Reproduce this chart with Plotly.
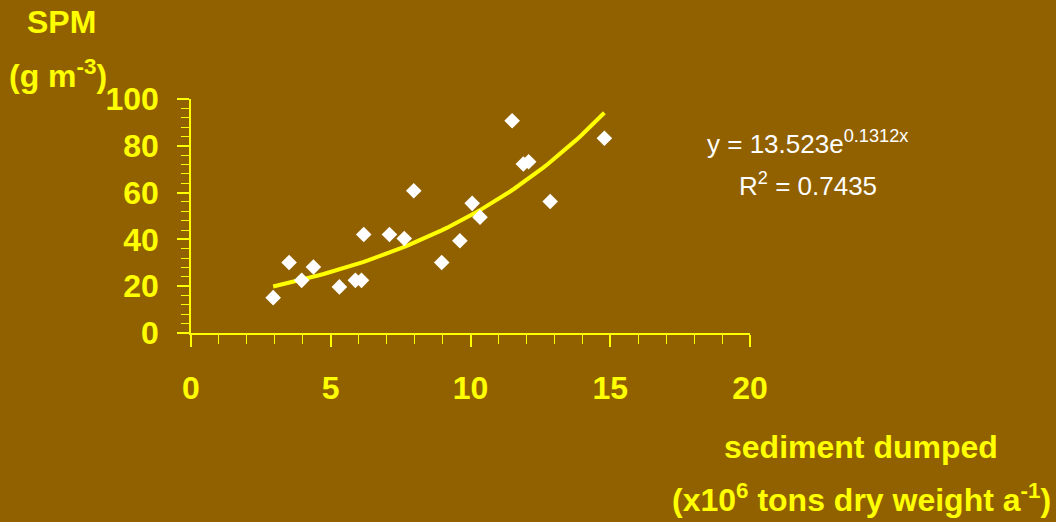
import numpy as np
import plotly.graph_objects as go

# Sediment dumped (x10^6 t dry weight per year) vs. suspended particulate matter (g m^-3)
sediment_dumped = [2.94, 3.51, 3.96, 4.38, 5.31, 5.88, 6.10, 6.18, 7.10, 7.63,
                   7.97, 8.97, 9.62, 10.06, 10.34, 11.49, 11.89, 12.08, 12.85, 14.79]
spm = [15.1, 30.1, 22.5, 28.2, 19.7, 22.5, 22.5, 42.1, 42.1, 40.4,
       60.8, 30.1, 39.4, 55.4, 49.5, 90.7, 72.2, 73.2, 56.2, 83.2]

# Exponential trendline coefficients
fit_a = 13.523
fit_b = 0.1312
fit_r2 = 0.7435

x_ticks = [0, 5, 10, 15, 20]
y_ticks = [0, 20, 40, 60, 80, 100]

BG = "#916100"
YELLOW = "#FFFF00"
FONT = "Liberation Sans, Arial, sans-serif"

fit_x = np.linspace(min(sediment_dumped), max(sediment_dumped), 60)
fit_y = fit_a * np.exp(fit_b * fit_x)

fig = go.Figure()
fig.add_trace(go.Scatter(
    x=fit_x, y=fit_y, mode="lines",
    line=dict(color=YELLOW, width=4),
    hoverinfo="skip", showlegend=False,
))
fig.add_trace(go.Scatter(
    x=sediment_dumped, y=spm, mode="markers",
    marker=dict(symbol="diamond", size=12, color="white", line=dict(width=0)),
    showlegend=False,
))

tick_font = dict(family=FONT, size=32, color=YELLOW, weight="bold")

fig.update_xaxes(
    range=[0, 20], tickvals=x_ticks, ticktext=[str(v) for v in x_ticks],
    showgrid=False, zeroline=False,
    showline=True, linecolor=YELLOW, linewidth=1.5,
    ticks="outside", ticklen=12, tickwidth=1.5, tickcolor=YELLOW,
    minor=dict(dtick=1, ticks="outside", ticklen=9, tickwidth=1.2, tickcolor=YELLOW, showgrid=False),
    tickfont=tick_font, ticklabelstandoff=14,
)
fig.update_yaxes(
    range=[0, 100], tickvals=y_ticks, ticktext=[str(v) for v in y_ticks],
    showgrid=False, zeroline=False,
    showline=True, linecolor=YELLOW, linewidth=1.5,
    ticks="outside", ticklen=12, tickwidth=1.5, tickcolor=YELLOW,
    minor=dict(dtick=4, ticks="outside", ticklen=8, tickwidth=1.2, tickcolor=YELLOW, showgrid=False),
    tickfont=tick_font, ticklabelstandoff=12,
)

title_font = dict(family=FONT, size=32, color=YELLOW, weight="bold")
eq_font = dict(family=FONT, size=26, color="white")

# Axis titles, positioned by pixel centre and baseline
titles = [
    ("SPM", 61, 33),
    ("(g m<sup>-3</sup>)", 57, 87),
    ("sediment dumped", 862, 458),
    ("(x10<sup>6</sup> tons dry weight a<sup>-1</sup>)", 862, 510),
]

fig.update_layout(
    width=1056, height=522,
    margin=dict(l=190.5, r=305.5, t=99, b=189.3),
    paper_bgcolor=BG, plot_bgcolor=BG,
    showlegend=False,
)

W, H = 1056, 522
L, R, T, B = 190.5, 305.5, 99, 189.3
pw, ph = W - L - R, H - T - B


def px_to_paper(px, py_from_top):
    return (px - L) / pw, (H - py_from_top - B) / ph


for text, px, py in titles:
    xp, yp = px_to_paper(px, py)
    fig.add_annotation(text=text, x=xp, y=yp, xref="paper", yref="paper",
                       xanchor="center", yanchor="bottom", showarrow=False,
                       font=title_font, yshift=-8, borderpad=0)

eq_lines = [
    (f"y = {fit_a}e<sup>{fit_b}x</sup>", 808, 155),
    (f"R<sup>2</sup> = {fit_r2}", 809, 197),
]
for text, px, py in eq_lines:
    xp, yp = px_to_paper(px, py)
    fig.add_annotation(text=text, x=xp, y=yp, xref="paper", yref="paper",
                       xanchor="center", yanchor="bottom", showarrow=False,
                       font=eq_font, yshift=-6)

fig.write_html("out.html")
